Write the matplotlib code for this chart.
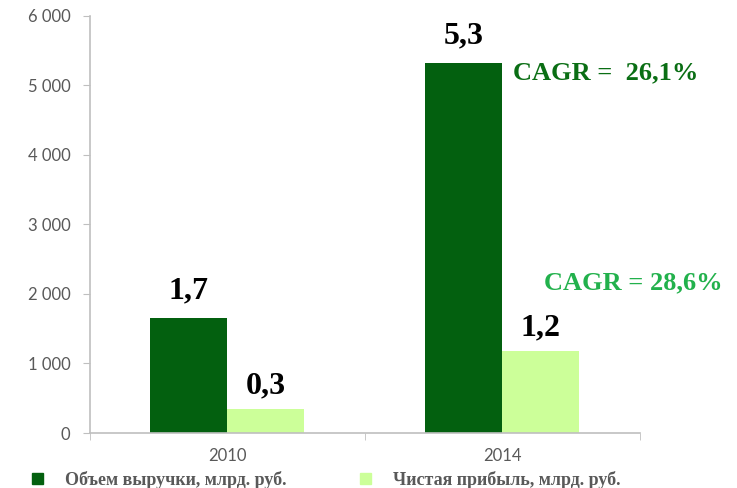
import matplotlib
matplotlib.use("Agg")
import matplotlib.pyplot as plt
import numpy as np
from matplotlib.patches import Patch

years = ["2010", "2014"]
revenue = [1655, 5320]
profit = [345, 1180]
revenue_labels = ["1,7", "5,3"]
profit_labels = ["0,3", "1,2"]
series_names = ["Объем выручки, млрд. руб.", "Чистая прибыль, млрд. руб."]
cagr_texts = ["CAGR =  26,1%", "CAGR = 28,6%"]
yticks = [0, 1000, 2000, 3000, 4000, 5000, 6000]
ytick_labels = ["0", "1 000", "2 000", "3 000", "4 000", "5 000", "6 000"]

dark = "#03600f"
light = "#ccff99"
gray = "#595959"

fig = plt.figure(figsize=(7.37, 4.88), dpi=100)
ax = fig.add_axes([0.122, 0.1127, 0.746, 0.855])

x = np.arange(len(years))
w = 0.28
b1 = ax.bar(x - w / 2, revenue, w, color=dark)
b2 = ax.bar(x + w / 2, profit, w, color=light)

serif = "Liberation Serif"
for rect, lab in zip(b1, revenue_labels):
    ax.annotate(lab, (rect.get_x() + rect.get_width() / 2, rect.get_height()),
                xytext=(0, 9), textcoords="offset points", ha="center", va="bottom",
                fontsize=23, fontweight="bold", family=serif, color="black")
for rect, lab in zip(b2, profit_labels):
    ax.annotate(lab, (rect.get_x() + rect.get_width() / 2, rect.get_height()),
                xytext=(0, 6), textcoords="offset points", ha="center", va="bottom",
                fontsize=23, fontweight="bold", family=serif, color="black")

ax.text(1.04, 5180, cagr_texts[0], ha="left", va="center", fontsize=19,
        fontweight="bold", family=serif, color="#0a6e14", clip_on=False)
ax.text(1.152, 2160, cagr_texts[1], ha="left", va="center", fontsize=19,
        fontweight="bold", family=serif, color="#22b14c", clip_on=False)

ax.set_xlim(-0.5, 1.5)
ax.set_ylim(0, 6000)
ax.set_yticks(yticks)
ax.set_yticklabels(ytick_labels)
ax.set_xticks(x)
ax.set_xticklabels(years)
ax.set_xticks([-0.5, 0.5, 1.5], minor=True)
ax.tick_params(axis="x", which="major", length=0, pad=11, labelsize=12, labelcolor=gray)
ax.tick_params(axis="x", which="minor", length=5, color="#bfbfbf", direction="out")
ax.tick_params(axis="y", length=5, color="#bfbfbf", labelsize=12, labelcolor=gray, pad=9)
for lab in ax.get_xticklabels() + ax.get_yticklabels():
    lab.set_family("Lato")

for s in ["top", "right"]:
    ax.spines[s].set_visible(False)
for s in ["left", "bottom"]:
    ax.spines[s].set_color("#bfbfbf")
    ax.spines[s].set_linewidth(1.2)

handles = [Patch(color=dark), Patch(color=light)]
fig.legend(handles, series_names, loc="lower left", bbox_to_anchor=(0.022, -0.035),
           ncol=2, frameon=False, handlelength=0.6, handleheight=0.6,
           columnspacing=4.1, handletextpad=1.2,
           prop={"family": serif, "weight": "bold", "size": 13}, labelcolor=gray)

fig.savefig("out.png", dpi=100)
